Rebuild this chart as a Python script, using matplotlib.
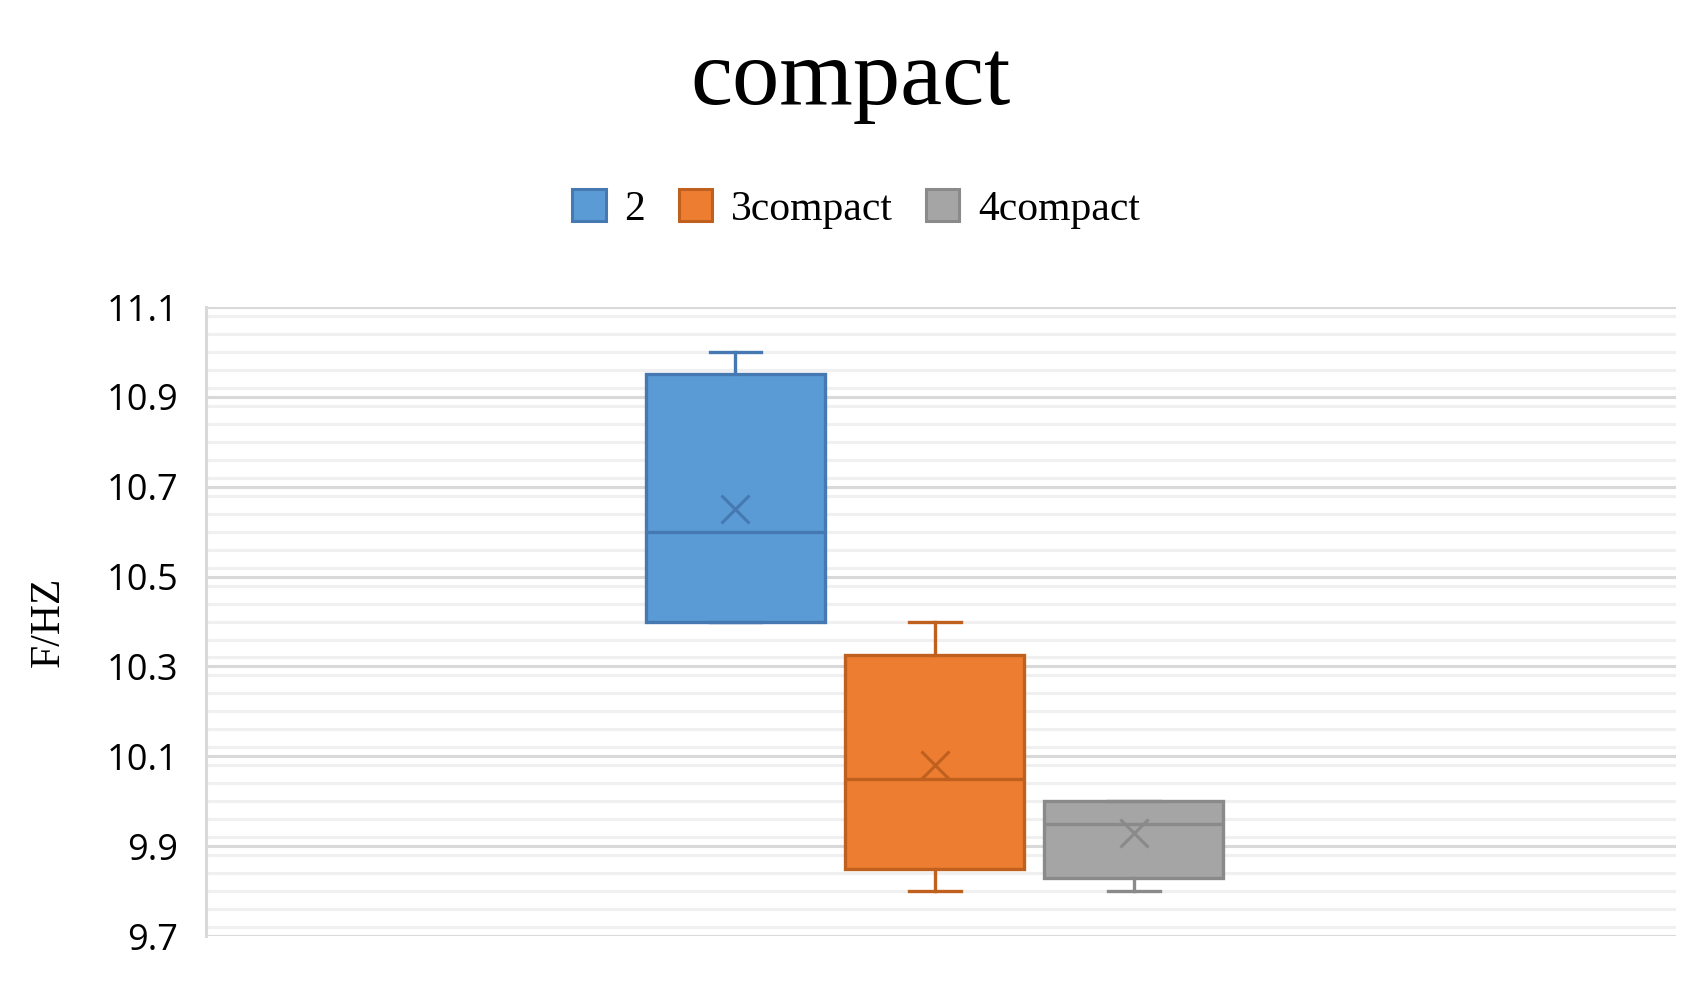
import matplotlib
matplotlib.use("Agg")
import matplotlib.pyplot as plt
from matplotlib.patches import Patch
from matplotlib.ticker import MultipleLocator

# data (F/HZ)
series = ["2", "3compact", "4compact"]
whislo = [10.40, 9.80, 9.80]
q1 = [10.40, 9.85, 9.83]
med = [10.60, 10.05, 9.95]
q3 = [10.95, 10.325, 10.00]
whishi = [11.00, 10.40, 10.00]
means = [10.65, 10.08, 9.93]

fills = ["#5B9BD5", "#ED7D31", "#A5A5A5"]
edges = ["#4678B2", "#C0601F", "#8A8A8A"]

serif = ["Liberation Serif", "DejaVu Serif"]

fig = plt.figure(figsize=(17.02, 9.85), dpi=100)
ax = fig.add_axes([0.121, 0.0497, 0.864, 0.6386])

for i in range(len(series)):
    stats = [{
        "whislo": whislo[i], "q1": q1[i], "med": med[i],
        "q3": q3[i], "whishi": whishi[i], "mean": means[i], "fliers": [],
    }]
    ax.bxp(
        stats,
        positions=[i],
        widths=0.9,
        capwidths=0.26,
        patch_artist=True,
        showmeans=True,
        boxprops=dict(facecolor=fills[i], edgecolor=edges[i], linewidth=2.4),
        medianprops=dict(color=edges[i], linewidth=2.4),
        whiskerprops=dict(color=edges[i], linewidth=2.4),
        capprops=dict(color=edges[i], linewidth=2.4),
        meanprops=dict(marker="x", markeredgecolor=edges[i],
                       markersize=20, markeredgewidth=2.2),
        manage_ticks=False,
    )

ax.set_xlim(-2.659, 4.725)
ax.set_ylim(9.7, 11.1)
ax.yaxis.set_minor_locator(MultipleLocator(0.04))
ax.set_yticks([9.7, 9.9, 10.1, 10.3, 10.5, 10.7, 10.9, 11.1])
ax.set_yticklabels(["9.7", "9.9", "10.1", "10.3", "10.5", "10.7", "10.9", "11.1"],
                   family=["Open Sans", "DejaVu Sans"], fontsize=26)
ax.set_xticks([])
ax.tick_params(axis="y", which="both", length=0, pad=20)

ax.grid(True, which="major", axis="y", color="#D9D9D9", linewidth=2.2)
ax.grid(True, which="minor", axis="y", color="#F0F0F0", linewidth=2.2)
ax.set_axisbelow(True)

for side in ["top", "right", "bottom"]:
    ax.spines[side].set_visible(False)
ax.spines["left"].set_color("#D9D9D9")
ax.spines["left"].set_linewidth(2.2)

ax.set_ylabel("F/HZ", family=serif, fontsize=30, labelpad=28)

fig.text(0.5, 0.917, "compact", family=serif, fontsize=68,
         ha="center", va="center")

handles = [Patch(facecolor=fills[i], edgecolor=edges[i], linewidth=2.2)
           for i in range(len(series))]
fig.legend(handles, series, loc="center", bbox_to_anchor=(0.503, 0.788),
           ncol=3, frameon=False, prop={"family": serif, "size": 30},
           handlelength=0.8, handleheight=0.8, handletextpad=0.45,
           columnspacing=0.8)

fig.savefig("out.png", dpi=100)
